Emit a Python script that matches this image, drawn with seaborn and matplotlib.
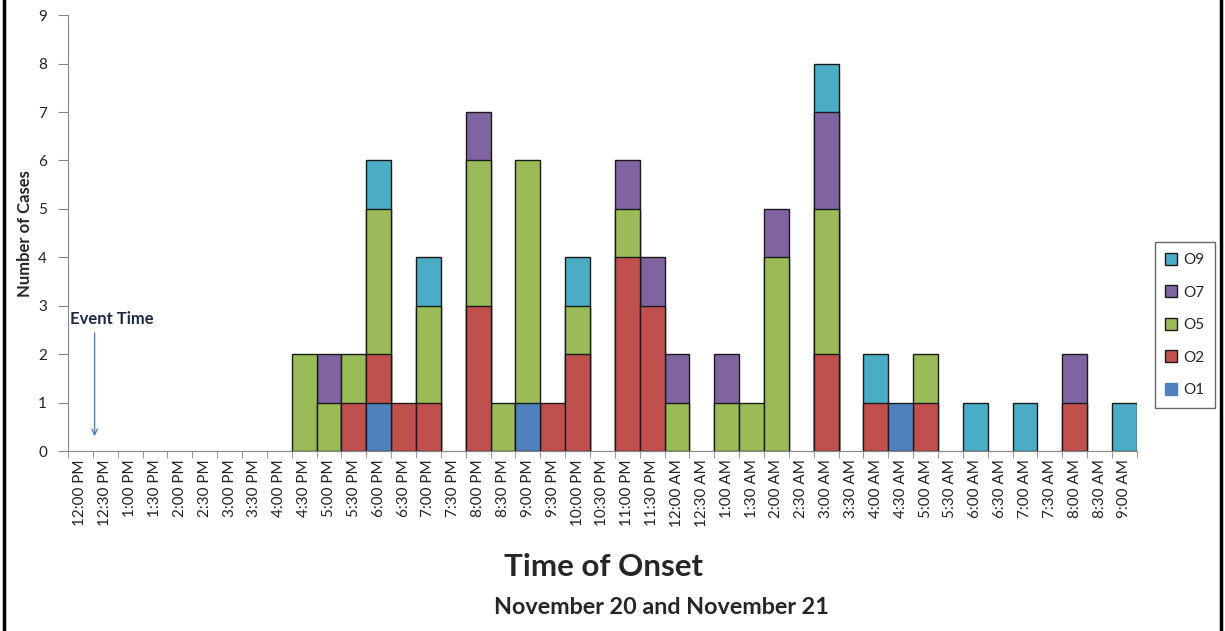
import matplotlib
matplotlib.use('Agg')
import matplotlib.pyplot as plt
import matplotlib.patches as mpatches
import seaborn as sns
import pandas as pd
import numpy as np

###### Data (cases per 30-minute onset interval)
times = ['12:00 PM', '12:30 PM', '1:00 PM', '1:30 PM', '2:00 PM', '2:30 PM', '3:00 PM',
         '3:30 PM', '4:00 PM', '4:30 PM', '5:00 PM', '5:30 PM', '6:00 PM', '6:30 PM',
         '7:00 PM', '7:30 PM', '8:00 PM', '8:30 PM', '9:00 PM', '9:30 PM', '10:00 PM',
         '10:30 PM', '11:00 PM', '11:30 PM', '12:00 AM', '12:30 AM', '1:00 AM', '1:30 AM',
         '2:00 AM', '2:30 AM', '3:00 AM', '3:30 AM', '4:00 AM', '4:30 AM', '5:00 AM',
         '5:30 AM', '6:00 AM', '6:30 AM', '7:00 AM', '7:30 AM', '8:00 AM', '8:30 AM',
         '9:00 AM']

o1 = [0, 0, 0, 0, 0, 0, 0, 0, 0, 0, 0, 0, 1, 0, 0, 0, 0, 0, 1, 0, 0, 0, 0, 0, 0, 0,
      0, 0, 0, 0, 0, 0, 0, 1, 0, 0, 0, 0, 0, 0, 0, 0, 0]
o2 = [0, 0, 0, 0, 0, 0, 0, 0, 0, 0, 0, 1, 1, 1, 1, 0, 3, 0, 0, 1, 2, 0, 4, 3, 0, 0,
      0, 0, 0, 0, 2, 0, 1, 0, 1, 0, 0, 0, 0, 0, 1, 0, 0]
o5 = [0, 0, 0, 0, 0, 0, 0, 0, 0, 2, 1, 1, 3, 0, 2, 0, 3, 1, 5, 0, 1, 0, 1, 0, 1, 0,
      1, 1, 4, 0, 3, 0, 0, 0, 1, 0, 0, 0, 0, 0, 0, 0, 0]
o7 = [0, 0, 0, 0, 0, 0, 0, 0, 0, 0, 1, 0, 0, 0, 0, 0, 1, 0, 0, 0, 0, 0, 1, 1, 1, 0,
      1, 0, 1, 0, 2, 0, 0, 0, 0, 0, 0, 0, 0, 0, 1, 0, 0]
o9 = [0, 0, 0, 0, 0, 0, 0, 0, 0, 0, 0, 0, 1, 0, 1, 0, 0, 0, 0, 0, 1, 0, 0, 0, 0, 0,
      0, 0, 0, 0, 1, 0, 1, 0, 0, 0, 1, 0, 1, 0, 0, 0, 1]

series = ['O1', 'O2', 'O5', 'O7', 'O9']
colors = {'O1': '#4F81BD', 'O2': '#C0504D', 'O5': '#9BBB59', 'O7': '#8064A2', 'O9': '#4BACC6'}

df = pd.DataFrame({'time': times, 'O1': o1, 'O2': o2, 'O5': o5, 'O7': o7, 'O9': o9})

###### Plot
sns.set_style('white')
plt.rcParams['font.family'] = ['Lato', 'DejaVu Sans']

fig = plt.figure(figsize=(12.25, 6.31), dpi=100)
ax = fig.add_axes([0.0555, 0.285, 0.8725, 0.691])

# stacked bars: draw cumulative totals from the top layer down
cum = df[series].cumsum(axis=1)
for s in reversed(series):
    sub = pd.DataFrame({'time': df['time'], 'top': cum[s]})[df[s] > 0]
    sns.barplot(data=sub, x='time', y='top', order=times, color=colors[s],
                width=1.0, saturation=1, edgecolor='#1a1a1a', linewidth=1.0, ax=ax)

ax.set_xlim(-0.5, len(times) - 0.5)
ax.set_ylim(0, 9)
ax.set_yticks(range(10))
ax.tick_params(axis='y', labelsize=11, length=7, pad=8, color='#868686', colors='#222222')
ax.tick_params(axis='x', labelsize=11, length=0, rotation=90, colors='#222222', pad=6)
ax.set_xticks(np.arange(-0.5, len(times), 1.0), minor=True)
ax.tick_params(axis='x', which='minor', length=5, color='#868686', bottom=True)
ax.yaxis.set_ticks_position('left')

for side in ['top', 'right']:
    ax.spines[side].set_visible(False)
for side in ['left', 'bottom']:
    ax.spines[side].set_color('#868686')

ax.set_ylabel('Number of Cases', fontsize=12, fontweight='bold', labelpad=4)
ax.set_xlabel('')
fig.text(0.493, 1 - 567 / 631, 'Time of Onset', fontsize=22.5, fontweight='bold',
         ha='center', va='center')
fig.text(0.54, 1 - 608 / 631, 'November 20 and November 21', fontsize=16.8,
         fontweight='bold', ha='center', va='center')

# event time marker
ax.text(-0.42, 2.73, 'Event Time', fontsize=12, fontweight='bold', color='#1f2a44',
        va='center', ha='left')
ax.annotate('', xy=(0.57, 0.25), xytext=(0.57, 2.5),
            arrowprops=dict(arrowstyle='->', color='#4F81BD', lw=1.0))

# legend
handles = []
for s in ['O9', 'O7', 'O5', 'O2', 'O1']:
    ec = colors[s] if s == 'O1' else '#1a1a1a'
    handles.append(mpatches.Patch(facecolor=colors[s], edgecolor=ec, label=s))
leg = fig.legend(handles=handles, loc='center left', bbox_to_anchor=(0.9425, 0.485),
                 fontsize=11, frameon=True, fancybox=False, handlelength=0.8,
                 handleheight=0.8, labelspacing=1.2, borderpad=0.7, handletextpad=0.4,
                 borderaxespad=0)
leg.get_frame().set_edgecolor('#404040')
leg.get_frame().set_linewidth(1.0)

# outer frame
fig.patches.append(mpatches.Rectangle((0.003, -0.01), 0.994, 1.02, transform=fig.transFigure,
                                      fill=False, edgecolor='black', linewidth=2.5))

plt.savefig('out.png', dpi=100)
